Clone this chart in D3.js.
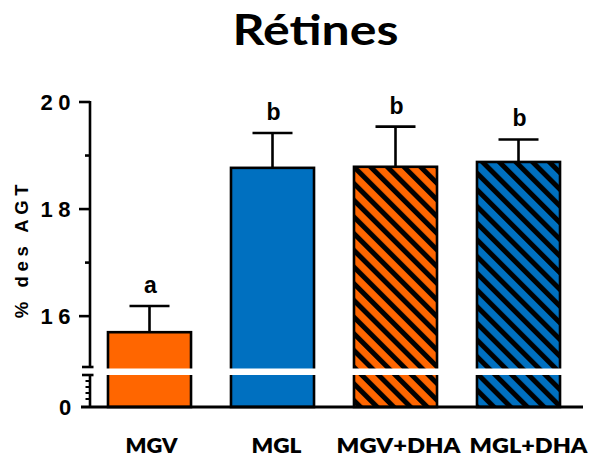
<!DOCTYPE html>
<html>
<head>
<meta charset="utf-8">
<script src="https://cdn.jsdelivr.net/npm/d3@7"></script>
<style>
  html, body { margin: 0; padding: 0; background: #fff; }
  svg { display: block; }
</style>
</head>
<body>
<svg id="chart" width="596" height="459"></svg>
<script>
// Retinal fatty acid share per diet group (% of total fatty acids)
const groups = ["MGV", "MGL", "MGV+DHA", "MGL+DHA"];
const means = [15.70, 18.77, 18.79, 18.88];
const sems = [0.49, 0.65, 0.75, 0.42];
const letters = ["a", "b", "b", "b"];
const upperTicks = [16, 18, 20];
const upperMinorTicks = [17, 19];
const lowerMinorTicks = [1, 2, 3, 4];

const ORANGE = "#FF6600";
const BLUE = "#0070C0";
const fills = [ORANGE, BLUE, "url(#hatchOrange)", "url(#hatchBlue)"];

const svg = d3.select("#chart");
const defs = svg.append("defs");

// Diagonal hatching used for the +DHA groups
function hatch(id, color) {
  const p = defs.append("pattern")
    .attr("id", id)
    .attr("patternUnits", "userSpaceOnUse")
    .attr("width", 11.8).attr("height", 11.8)
    .attr("patternTransform", "rotate(-45)");
  p.append("rect").attr("width", 11.8).attr("height", 11.8).attr("fill", color);
  p.append("rect").attr("x", 0).attr("width", 5).attr("height", 11.8).attr("fill", "#000");
}
hatch("hatchOrange", ORANGE);
hatch("hatchBlue", BLUE);

// Text widened horizontally to a given width, centred on cx
function wideText(parent, str, cx, y, width, size, weight) {
  const g = parent.append("g");
  const t = g.append("text")
    .attr("text-anchor", "middle")
    .attr("font-family", "Lato, 'Open Sans', sans-serif")
    .attr("font-weight", weight)
    .attr("font-size", size)
    .text(str);
  const natural = t.node().getComputedTextLength();
  g.attr("transform", `translate(${cx},${y}) scale(${width / natural},1)`);
  return g;
}

// Broken value axis: lower segment 0..5, upper segment 15.05..20
const axisX = 90;
const yUpper = d3.scaleLinear().domain([15.05, 20]).range([367, 102]);
const yLower = d3.scaleLinear().domain([0, 5]).range([405, 375]);
const baseY = 407;

const x = d3.scaleBand()
  .domain(groups)
  .range([88, 580])
  .paddingInner(0.325)
  .paddingOuter(0.1625);

// Title
wideText(svg, "Rétines", 315.5, 45, 166, 42, 700);

// Bars
const bars = svg.append("g");
groups.forEach((g, i) => {
  bars.append("rect")
    .attr("x", x(g))
    .attr("y", yUpper(means[i]))
    .attr("width", x.bandwidth())
    .attr("height", yLower(0) - yUpper(means[i]) + 2)
    .attr("fill", fills[i])
    .attr("stroke", "#000")
    .attr("stroke-width", 2.6);
});

// Error bars (upper whisker only) and group letters
const err = svg.append("g").attr("stroke", "#000").attr("stroke-width", 2.6);
groups.forEach((g, i) => {
  const cx = x(g) + x.bandwidth() / 2;
  const top = yUpper(means[i] + sems[i]);
  err.append("line").attr("x1", cx).attr("x2", cx)
    .attr("y1", yUpper(means[i])).attr("y2", top);
  err.append("line").attr("x1", cx - 20).attr("x2", cx + 20)
    .attr("y1", top).attr("y2", top);
  svg.append("text")
    .attr("x", cx + 1).attr("y", top - 13)
    .attr("text-anchor", "middle")
    .attr("font-family", "'Liberation Sans', Arial, sans-serif")
    .attr("font-weight", 700)
    .attr("font-size", 23)
    .text(letters[i]);
});

// White band marking the axis break across the plot
svg.append("rect")
  .attr("x", axisX + 2).attr("y", 368.5)
  .attr("width", 500).attr("height", 6.5)
  .attr("fill", "#fff");

// Value axis
const ax = svg.append("g").attr("stroke", "#000").attr("stroke-width", 2.6).attr("fill", "none");
ax.append("line").attr("x1", axisX).attr("x2", axisX).attr("y1", yUpper(20) - 1).attr("y2", 367);
ax.append("line").attr("x1", axisX).attr("x2", axisX).attr("y1", 375).attr("y2", baseY);
// break marks
[367, 375].forEach(yy => ax.append("line").attr("x1", 82).attr("x2", 93.5).attr("y1", yy).attr("y2", yy));
upperTicks.forEach(v => ax.append("line").attr("x1", 79).attr("x2", axisX).attr("y1", yUpper(v)).attr("y2", yUpper(v)));
upperMinorTicks.forEach(v => ax.append("line").attr("x1", 85).attr("x2", axisX).attr("y1", yUpper(v)).attr("y2", yUpper(v)));
lowerMinorTicks.forEach(v => ax.append("line").attr("x1", 85.5).attr("x2", axisX).attr("y1", yLower(v)).attr("y2", yLower(v)).attr("stroke-width", 2));
// category axis baseline
svg.append("line").attr("x1", 81).attr("x2", 583).attr("y1", baseY).attr("y2", baseY)
  .attr("stroke", "#000").attr("stroke-width", 3.2);

// Tick labels
const tickFont = "'Liberation Sans', Arial, sans-serif";
upperTicks.forEach(v => {
  svg.append("text")
    .attr("x", 40.5).attr("y", yUpper(v) + 8)
    .attr("font-family", tickFont).attr("font-weight", 700)
    .style("font-size", "22px")
    .style("letter-spacing", "5.5px")
    .text(String(v));
});
svg.append("text")
  .attr("x", 59).attr("y", baseY + 8)
  .attr("font-family", tickFont).attr("font-weight", 700)
  .style("font-size", "22px")
  .text("0");

// Axis title
svg.append("text")
  .attr("transform", "translate(27.5,249) rotate(-90)")
  .attr("text-anchor", "middle")
  .attr("font-family", tickFont).attr("font-weight", 700)
  .style("font-size", "18.5px")
  .style("letter-spacing", "4.6px")
  .text("% des AGT");

// Category labels
const labelWidths = [52, 50, 124, 118];
const labelNudge = [2, 4, 3, 10];
groups.forEach((g, i) => {
  wideText(svg, g, x(g) + x.bandwidth() / 2 + labelNudge[i], 453, labelWidths[i], 21, 800);
});
</script>
</body>
</html>
